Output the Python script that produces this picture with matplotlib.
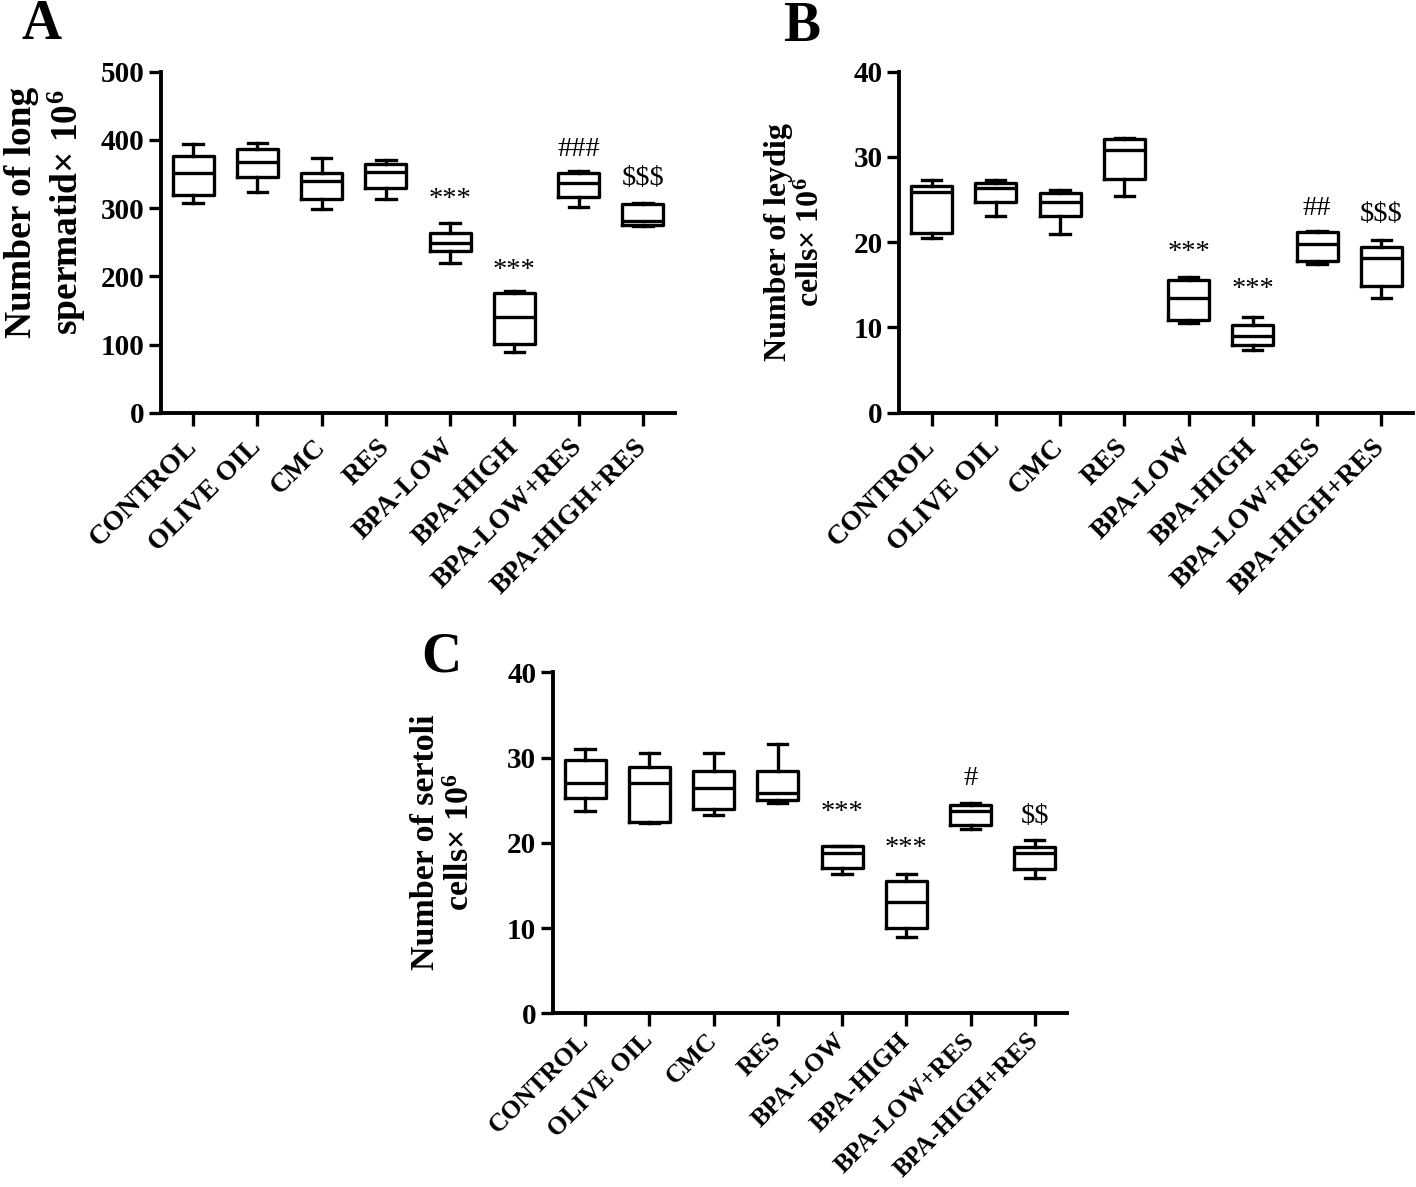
import matplotlib
matplotlib.use("Agg")
import matplotlib.pyplot as plt

plt.rcParams['font.family'] = ['Liberation Serif', 'DejaVu Serif']
plt.rcParams['font.weight'] = 'bold'
plt.rcParams['mathtext.fontset'] = 'custom'
plt.rcParams['mathtext.rm'] = 'Liberation Serif:bold'
plt.rcParams['mathtext.bf'] = 'Liberation Serif:bold'
plt.rcParams['mathtext.default'] = 'bf'

# === Datos ===
grupos = ["CONTROL", "OLIVE OIL", "CMC", "RES", "BPA-LOW", "BPA-HIGH",
          "BPA-LOW+RES", "BPA-HIGH+RES"]

# A - long spermatid
a_whislo = [307, 323, 299, 314, 220, 89, 301, 274]
a_q1 = [319, 346, 313, 329, 237, 101, 316, 275]
a_med = [352, 367, 340, 353, 249, 141, 337, 281]
a_q3 = [376, 387, 351, 365, 263, 176, 352, 306]
a_whishi = [394, 396, 374, 371, 278, 179, 355, 308]
a_marcas = ["", "", "", "", "***", "***", "###", r"\$\$\$"]
a_marca_y = [0, 0, 0, 0, 312, 209, 386, 344]

# B - leydig
b_whislo = [20.5, 23.1, 21.0, 25.4, 10.5, 7.35, 17.4, 13.4]
b_q1 = [21.1, 24.75, 23.1, 27.4, 10.9, 7.9, 17.8, 14.9]
b_med = [25.9, 26.3, 24.7, 30.8, 13.45, 9.0, 19.8, 18.1]
b_q3 = [26.6, 26.9, 25.8, 32.1, 15.6, 10.3, 21.2, 19.4]
b_whishi = [27.3, 27.3, 26.1, 32.2, 15.9, 11.2, 21.3, 20.3]
b_marcas = ["", "", "", "", "***", "***", "##", r"\$\$\$"]
b_marca_y = [0, 0, 0, 0, 18.8, 14.4, 24.0, 23.3]

# C - sertoli
c_whislo = [23.8, 22.3, 23.3, 24.7, 16.4, 9.0, 21.6, 15.9]
c_q1 = [25.3, 22.5, 24.0, 25.0, 17.1, 10.0, 22.1, 17.0]
c_med = [27.0, 27.0, 26.5, 25.9, 18.8, 13.1, 23.7, 18.8]
c_q3 = [29.7, 28.9, 28.4, 28.4, 19.6, 15.5, 24.5, 19.5]
c_whishi = [31.0, 30.6, 30.5, 31.6, 19.7, 16.4, 24.7, 20.3]
c_marcas = ["", "", "", "", "***", "***", "#", r"\$\$"]
c_marca_y = [0, 0, 0, 0, 23.6, 19.4, 27.6, 23.1]

LW = 2.4


def dibujar_panel(ax, whislo, q1, med, q3, whishi, marcas, marca_y, ymax, paso,
                  tam_x=20, pad_x=13):
    stats = []
    for i in range(len(grupos)):
        stats.append({"whislo": whislo[i], "q1": q1[i], "med": med[i],
                      "q3": q3[i], "whishi": whishi[i], "fliers": []})
    estilo = dict(color="black", linewidth=LW)
    ax.bxp(stats, positions=range(len(grupos)), widths=0.64, capwidths=0.3,
           showfliers=False, boxprops=estilo, whiskerprops=estilo,
           capprops=estilo, medianprops=estilo)
    for i, m in enumerate(marcas):
        if m:
            ax.text(i, marca_y[i], m, ha="center", va="center", fontsize=20.5,
                    fontweight="normal")
    ax.set_xlim(-0.5, len(grupos) - 0.5)
    ax.set_ylim(0, ymax)
    ax.set_yticks(range(0, ymax + 1, paso))
    ax.set_xticks(range(len(grupos)))
    ax.set_xticklabels(grupos, rotation=45, ha="right", va="center",
                       rotation_mode="anchor", fontsize=tam_x)
    ax.tick_params(axis="y", labelsize=21, width=LW, length=9, pad=3)
    ax.tick_params(axis="x", width=LW, length=9, pad=pad_x)
    for s in ["top", "right"]:
        ax.spines[s].set_visible(False)
    for s in ["left", "bottom"]:
        ax.spines[s].set_linewidth(LW + 0.4)


fig = plt.figure(figsize=(14.16, 11.87), dpi=100)

ax_a = fig.add_axes([0.1137, 0.6523, 0.363, 0.2873])
ax_b = fig.add_axes([0.6352, 0.6523, 0.363, 0.2873])
ax_c = fig.add_axes([0.3905, 0.1462, 0.363, 0.2873])

dibujar_panel(ax_a, a_whislo, a_q1, a_med, a_q3, a_whishi, a_marcas, a_marca_y, 500, 100)
dibujar_panel(ax_b, b_whislo, b_q1, b_med, b_q3, b_whishi, b_marcas, b_marca_y, 40, 10)
dibujar_panel(ax_c, c_whislo, c_q1, c_med, c_q3, c_whishi, c_marcas, c_marca_y, 40, 10,
              tam_x=18.5, pad_x=8)

W, H = 1416, 1187
fig.text(46 / W, 1 - 212 / H, "Number of long\nspermatid× 10$^6$", rotation=90,
         ha="center", va="center", multialignment="center", fontsize=27)
fig.text(795 / W, 1 - 242 / H, "Number of leydig\ncells× 10$^6$", rotation=90,
         ha="center", va="center", multialignment="center", fontsize=23)
fig.text(443 / W, 1 - 842 / H, "Number of sertoli\ncells× 10$^6$", rotation=90,
         ha="center", va="center", multialignment="center", fontsize=24.5)

fig.text(42 / W, 1 - 25 / H, "A", ha="center", va="center", fontsize=40)
fig.text(802 / W, 1 - 27 / H, "B", ha="center", va="center", fontsize=40)
fig.text(441 / W, 1 - 658 / H, "C", ha="center", va="center", fontsize=40)

plt.savefig("out.png", dpi=100)
plt.close()
